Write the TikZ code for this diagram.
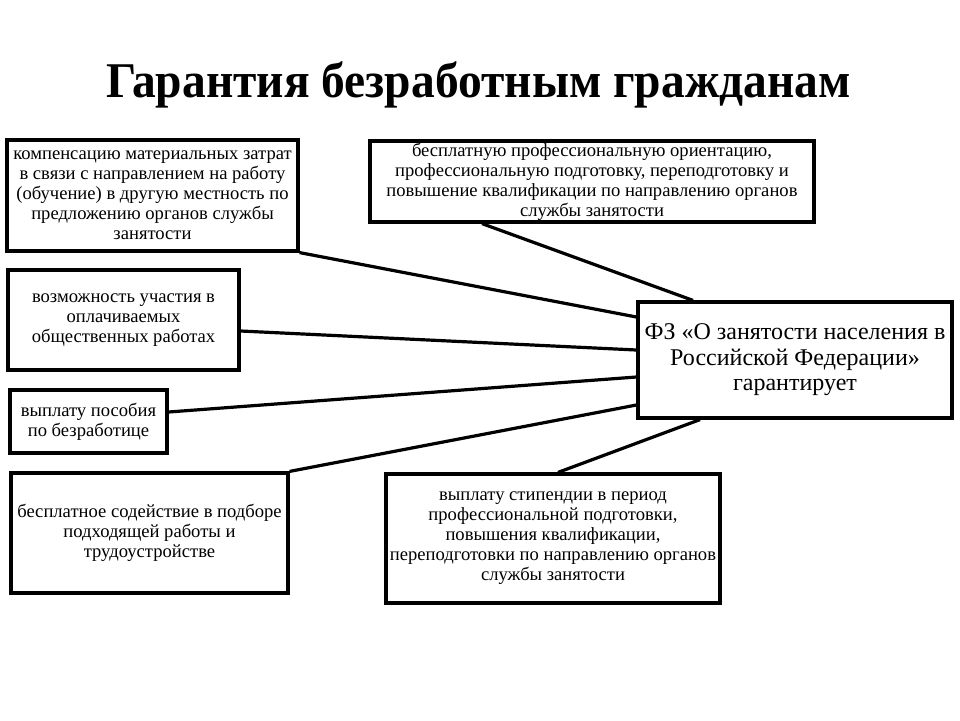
\documentclass[tikz,border=0pt]{standalone}
\usepackage{fontspec}
\setmainfont{Liberation Serif}
\usetikzlibrary{positioning}
\tikzset{
  box/.style={draw=black, line width=3.2pt, rectangle, inner sep=0pt, align=center,
    font=\fontsize{18.6}{20}\selectfont},
  bigbox/.style={box, font=\fontsize{24}{25.5}\selectfont},
  link/.style={draw=black, line width=3.2pt}
}
\begin{document}
\begin{tikzpicture}[x=1pt,y=-1pt]
\fill[white] (0,0) rectangle (960,720);
\useasboundingbox (0,0) rectangle (960,720);

\node[anchor=base, xscale=0.95, font=\fontsize{50}{55}\selectfont\bfseries] (title) at (478.5,97) {Гарантия безработным гражданам};

\node[box, minimum width=291pt, minimum height=111pt] (A) at (152.5,195.5)
  {компенсацию материальных затрат\\в связи с направлением на работу\\(обучение) в другую местность по\\предложению органов службы\\занятости};
\node[box, minimum width=231pt, minimum height=100pt] (B) at (123.5,320)
  {возможность участия в\\оплачиваемых\\общественных работах};
\node[box, minimum width=157pt, minimum height=63pt] (C) at (88.5,421.5)
  {выплату пособия\\по безработице};
\node[box, minimum width=277pt, minimum height=120pt] (G) at (149.5,533)
  {бесплатное содействие в подборе\\подходящей работы и\\трудоустройстве};
\node[box, minimum width=444pt, minimum height=81pt] (D) at (592,181.5)
  {бесплатную профессиональную ориентацию,\\профессиональную подготовку, переподготовку и\\повышение квалификации по направлению органов\\службы занятости};
\node[box, minimum width=334pt, minimum height=129pt] (F) at (553,538.5)
  {выплату стипендии в период\\профессиональной подготовки,\\повышения квалификации,\\переподготовки по направлению органов\\службы занятости};
\node[bigbox, minimum width=314pt, minimum height=116pt] (E) at (795,360)
  {ФЗ «О занятости населения в\\Российской Федерации»\\гарантирует};

\draw[link] (A.south east) -- ([yshift=43pt]E.west);
\draw[link] ([yshift=-11pt]B.east) -- ([yshift=10pt]E.west);
\draw[link] ([yshift=9.5pt]C.east) -- ([yshift=-17pt]E.west);
\draw[link] (G.north east) -- ([yshift=-45pt]E.west);
\draw[link] ([xshift=-110pt]D.south) -- ([xshift=-102pt]E.north);
\draw[link] ([xshift=5pt]F.north) -- ([xshift=-95pt]E.south);
\end{tikzpicture}
\end{document}
